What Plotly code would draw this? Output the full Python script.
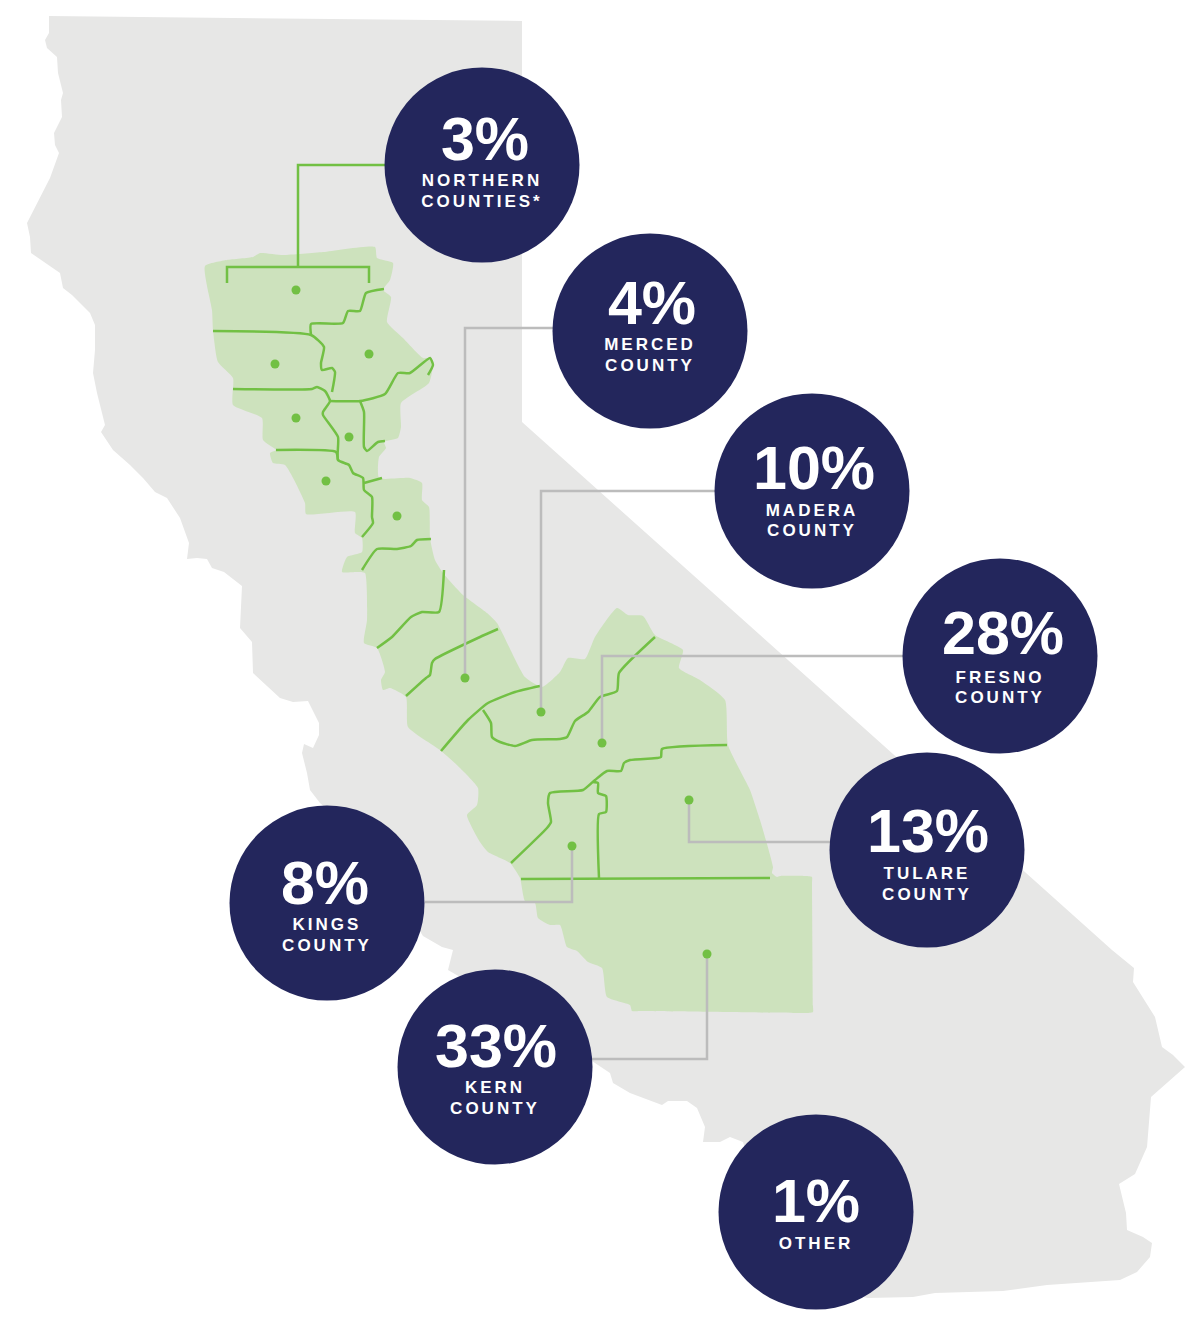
import plotly.graph_objects as go

# map outlines, (x, y) in image space
state_outline = [
    (49, 16), (522, 21), (522, 422), (1112, 950), (1134, 968), (1133, 982), (1155, 1017), (1162, 1047),
    (1173, 1055), (1185, 1067), (1151, 1097), (1147, 1147), (1135, 1174), (1119, 1184), (1126, 1213),
    (1127, 1230), (1143, 1237), (1152, 1243), (1150, 1257), (1137, 1272), (1120, 1280), (1047, 1285),
    (1003, 1291), (935, 1293), (913, 1297), (868, 1298), (830, 1290), (760, 1200), (743, 1142), (730, 1137),
    (720, 1142), (703, 1142), (705, 1127), (697, 1108), (687, 1101), (668, 1101), (662, 1105), (648, 1100),
    (630, 1093), (613, 1083), (610, 1073), (595, 1063), (560, 1040), (500, 1000), (448, 970), (453, 950),
    (442, 947), (423, 936), (400, 900), (350, 830), (320, 803), (310, 790), (307, 773), (302, 753),
    (304, 744), (313, 748), (319, 735), (319, 723), (308, 701), (293, 702), (280, 698), (253, 673),
    (252, 642), (240, 628), (242, 586), (224, 572), (212, 568), (207, 559), (197, 558), (187, 559),
    (189, 543), (180, 518), (167, 498), (155, 492), (143, 478), (130, 465), (113, 450), (101, 432),
    (105, 425), (97, 393), (93, 373), (95, 350), (95, 325), (90, 313), (72, 295), (63, 288), (60, 273),
    (31, 253), (30, 237), (27, 223), (50, 178), (59, 153), (55, 145), (54, 133), (62, 117), (61, 100),
    (63, 93), (58, 73), (57, 57), (47, 48), (45, 40), (49, 33),
]
valley_outline = [
    (205, 266), (227, 260), (253, 257), (260, 253), (283, 255), (323, 252), (375, 247), (377, 258), (393, 263),
    (390, 280), (383, 290), (391, 297), (387, 322), (403, 338), (423, 358), (431, 358), (433, 365), (429, 383),
    (401, 403), (401, 427), (398, 438), (384, 442), (386, 448), (379, 457), (379, 478), (410, 478), (422, 483),
    (422, 500), (429, 507), (430, 538), (435, 560), (443, 573), (463, 595), (487, 613), (497, 623), (525, 677),
    (542, 687), (560, 672), (568, 658), (585, 659), (595, 637), (617, 608), (628, 615), (643, 616), (655, 635),
    (683, 650), (679, 668), (700, 680), (725, 700), (728, 745), (750, 790), (760, 820), (773, 867), (772, 873),
    (777, 877), (780, 876), (806, 876), (812, 877), (812, 883), (813, 1006), (813, 1012), (807, 1013), (793, 1013),
    (640, 1011), (632, 1011), (630, 1005), (607, 997),
    (602, 968), (588, 962), (577, 951), (567, 947), (560, 925), (550, 925), (538, 918), (535, 903), (525, 901),
    (520, 878), (510, 863), (488, 852), (480, 842), (467, 815), (477, 805), (478, 788), (460, 768), (440, 750),
    (408, 727), (406, 697), (390, 688), (383, 690), (381, 680), (385, 672), (377, 648), (364, 643), (367, 620),
    (365, 573), (357, 572), (342, 572), (347, 557), (362, 552), (362, 538), (355, 533), (355, 512), (306, 514),
    (305, 503), (285, 465), (273, 463), (270, 453), (276, 450), (263, 440), (262, 418), (233, 405), (233, 378),
    (218, 362), (213, 330), (212, 310),
]
# the bracket over the northern counties and its stem stay straight
bracket_lines = [
    [(227, 283), (227, 267), (369, 267), (369, 283)],
    [(298, 267), (298, 165), (386, 165)],
]
county_lines = [
    [(384, 289), (366, 293), (360, 311), (348, 311), (343, 323), (311, 324), (311, 335)],
    [(213, 331), (311, 335), (324, 347), (321, 363), (322, 370), (332, 368), (335, 372), (332, 392)],
    [(233, 389), (312, 389), (317, 387), (325, 391), (330, 401), (323, 412), (323, 415), (338, 437), (338, 460),
     (349, 465), (353, 473), (363, 478), (364, 490), (372, 497), (372, 517), (373, 523), (362, 537)],
    [(330, 401), (360, 401), (385, 394), (398, 373), (410, 373), (430, 358), (433, 365), (428, 375)],
    [(360, 401), (364, 412), (364, 447), (367, 451), (378, 442), (385, 441)],
    [(276, 450), (336, 452), (338, 460)],
    [(364, 483), (382, 478)],
    [(362, 570), (377, 549), (397, 549), (411, 546), (417, 540), (431, 539)],
    [(444, 570), (439, 612), (422, 612), (411, 617), (392, 637), (377, 648)],
    [(498, 629), (480, 637), (435, 659), (432, 663), (430, 675), (426, 678), (406, 696)],
    [(540, 686), (515, 692), (488, 703), (468, 720), (441, 751)],
    [(483, 710), (491, 723), (492, 737), (500, 742), (515, 746), (532, 740), (560, 739), (567, 737), (575, 721),
     (588, 712), (600, 697), (617, 691), (619, 673), (655, 637)],
    [(727, 745), (662, 749), (661, 757), (657, 758), (630, 760), (624, 763), (621, 771), (607, 771), (595, 780),
     (583, 790), (550, 793), (548, 803), (551, 822), (547, 828), (511, 863)],
    [(593, 782), (598, 783), (598, 793), (606, 796), (606, 812), (599, 814), (599, 878)],
    [(521, 879), (770, 878)],
]
northern_dots = [(296, 290), (275, 364), (369, 354), (296, 418), (349, 437), (326, 481), (397, 516)]

# one entry per bubble
region_pct = ["3%", "4%", "10%", "28%", "13%", "8%", "33%", "1%"]
region_lines = [
    ["NORTHERN", "COUNTIES*"], ["MERCED", "COUNTY"], ["MADERA", "COUNTY"], ["FRESNO", "COUNTY"],
    ["TULARE", "COUNTY"], ["KINGS", "COUNTY"], ["KERN", "COUNTY"], ["OTHER"],
]
bubble_x = [482, 650, 812, 1000, 927, 327, 495, 816]
bubble_y = [165, 331, 491, 656, 850, 903, 1067, 1212]
pct_x = [485, 652, 814, 1003, 928, 325, 496, 816]
pct_y = [145, 309, 474, 639, 837, 889, 1052, 1207]
label_y = [[182, 203], [346, 367], [512, 532], [679, 699], [875, 896], [926, 947], [1089, 1110], [1245]]

# leader runs from the county dot to its bubble
leaders = [
    [(465, 678), (465, 328), (553, 328)],
    [(541, 712), (541, 491), (716, 491)],
    [(602, 743), (602, 656), (903, 656)],
    [(689, 800), (689, 842), (830, 842)],
    [(572, 846), (572, 902), (425, 902)],
    [(707, 954), (707, 1059), (592, 1059)],
]

GRAY_LAND = "#e7e7e6"
GREEN_FILL = "#cde2bd"
GREEN = "#72c044"
LEADER = "#bcbcbc"
NAVY = "#23265c"
SOFT = dict(shape="spline", smoothing=0.5)

fig = go.Figure()


def add_path(points, **kw):
    fig.add_trace(go.Scatter(x=[p[0] for p in points], y=[p[1] for p in points], hoverinfo="skip", **kw))


add_path(state_outline + state_outline[:1], mode="lines", line=dict(width=0), fill="toself", fillcolor=GRAY_LAND)
add_path(valley_outline + valley_outline[:1], mode="lines", line=dict(width=0, **SOFT), fill="toself", fillcolor=GREEN_FILL)
for seg in county_lines:
    add_path(seg, mode="lines", line=dict(color=GREEN, width=2.5, **SOFT))
for seg in bracket_lines:
    add_path(seg, mode="lines", line=dict(color=GREEN, width=2.5))
for seg in leaders:
    add_path(seg, mode="lines", line=dict(color=LEADER, width=2.5))
add_path(northern_dots + [seg[0] for seg in leaders], mode="markers", marker=dict(color=GREEN, size=9))

fig.add_trace(go.Scatter(x=bubble_x, y=bubble_y, mode="markers", hoverinfo="skip",
                         marker=dict(color=NAVY, size=195, line=dict(width=0))))
fig.add_trace(go.Scatter(x=pct_x, y=pct_y, mode="text", text=region_pct, hoverinfo="skip", textposition="middle center",
                         textfont=dict(family="Liberation Sans", size=61, color="white", weight="bold")))

label_xs, label_ys, label_txt = [], [], []
for cx, ys, lines in zip(bubble_x, label_y, region_lines):
    for y, line in zip(ys, lines):
        label_xs.append(cx)
        label_ys.append(y)
        label_txt.append(line)
fig.add_trace(go.Scatter(x=label_xs, y=label_ys, mode="text", text=label_txt, hoverinfo="skip", textposition="middle center",
                         textfont=dict(family="Liberation Sans", size=17, color="white", weight="bold")))

fig.update_layout(
    width=1200, height=1322, margin=dict(t=0, r=0, b=0, l=0),
    paper_bgcolor="white", plot_bgcolor="white", showlegend=False,
    xaxis=dict(range=[0, 1200], visible=False, fixedrange=True),
    yaxis=dict(range=[1322, 0], visible=False, fixedrange=True),
)

# plotly has no letter-spacing option, the bubble captions are tracked out
spacing_js = """
document.body.style.margin = '0';
document.querySelectorAll('.textpoint text').forEach(function (t) {
  if (parseFloat(t.style.fontSize) < 30) { t.style.letterSpacing = '3px'; }
});
"""
fig.write_html("out.html", post_script=spacing_js, config=dict(displayModeBar=False))
